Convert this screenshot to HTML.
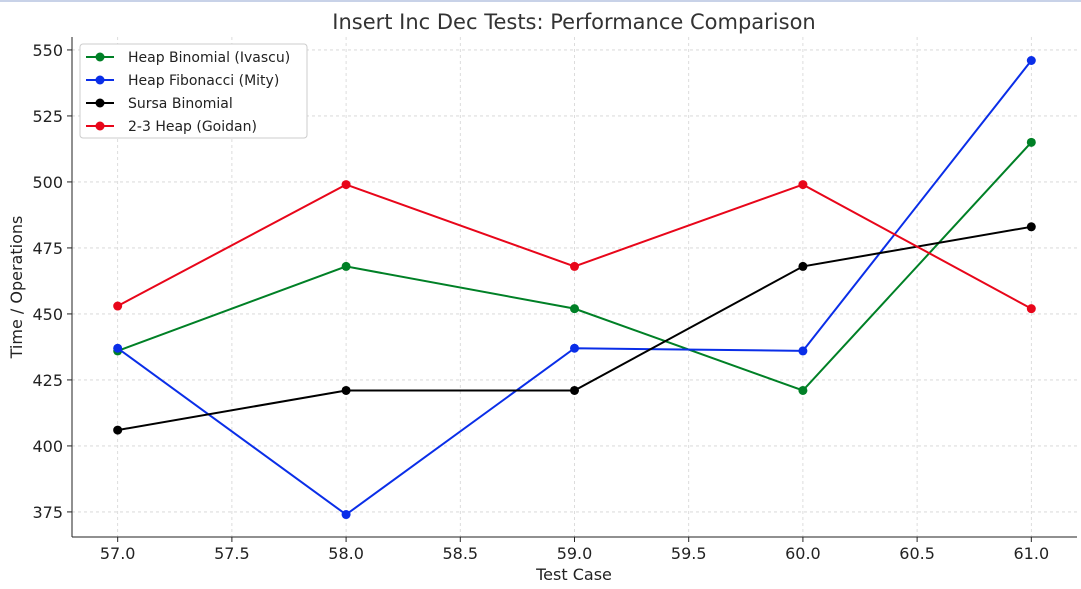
<!DOCTYPE html>
<html><head><meta charset="utf-8"><style>
body{margin:0;background:#fff;font-family:"DejaVu Sans","Liberation Sans",sans-serif}
</style></head><body>
<svg id="chart" width="1081" height="589" style="display:block;font-family:'DejaVu Sans','Liberation Sans',sans-serif">
<rect x="0" y="0" width="1081" height="2" fill="#c8d2e8"/>
<text x="574" y="29" text-anchor="middle" font-size="21" fill="#333">Insert Inc Dec Tests: Performance Comparison</text>
<g id="grid"></g><g id="axes"></g><g id="series"></g><g id="legend"></g>
<text x="574" y="580" text-anchor="middle" font-size="16" fill="#222">Test Case</text>
<text transform="translate(22,287) rotate(-90)" text-anchor="middle" font-size="16" fill="#222">Time / Operations</text>
</svg>
<script>
const categories=[57,58,59,60,61];
const seriesNames=["Heap Binomial (Ivascu)","Heap Fibonacci (Mity)","Sursa Binomial","2-3 Heap (Goidan)"];
const seriesColors=["#008026","#0a2ee8","#000000","#e8061a"];
const binomialIvascu=[436,468,452,421,515];
const fibonacciMity=[437,374,437,436,546];
const sursaBinomial=[406,421,421,468,483];
const heapGoidan=[453,499,468,499,452];
const xTicks=[57,57.5,58,58.5,59,59.5,60,60.5,61];
const yTicks=[375,400,425,450,475,500,525,550];
const allSeries=[binomialIvascu,fibonacciMity,sursaBinomial,heapGoidan];
const L=72,R=1077,T=37,B=537,xMin=56.8,xMax=61.2,yMin=365.5,yMax=554.9;
const xs=v=>L+(v-xMin)/(xMax-xMin)*(R-L);
const ys=v=>B-(v-yMin)/(yMax-yMin)*(B-T);
const NS="http://www.w3.org/2000/svg";
function mk(p,t,a){const e=document.createElementNS(NS,t);for(const k in a)e.setAttribute(k,a[k]);p.appendChild(e);return e;}
const grid=document.getElementById('grid'),axes=document.getElementById('axes');
xTicks.forEach(v=>{const x=xs(v);
const g=mk(grid,'line',{x1:x,x2:x,y1:T,y2:B,stroke:'#d4d4d4','stroke-width':0.8,'stroke-dasharray':'3,3'});


mk(axes,'line',{x1:x,x2:x,y1:B,y2:B+5,stroke:'#222'});
const t=mk(axes,'text',{x:x,y:B+22,'text-anchor':'middle','font-size':16,fill:'#222'});t.textContent=v.toFixed(1);

});
yTicks.forEach(v=>{const y=ys(v);
const g=mk(grid,'line',{x1:L,x2:R,y1:y,y2:y,stroke:'#d4d4d4','stroke-width':0.8,'stroke-dasharray':'3,3'});


mk(axes,'line',{x1:L-5,x2:L,y1:y,y2:y,stroke:'#222'});
const t=mk(axes,'text',{x:L-9,y:y+6,'text-anchor':'end','font-size':16,fill:'#222'});t.textContent=v;

});
mk(axes,'line',{x1:L,x2:L,y1:T,y2:B,stroke:'#222'});
mk(axes,'line',{x1:L,x2:R,y1:B,y2:B,stroke:'#222'});
const sg=document.getElementById('series');
allSeries.forEach((d,i)=>{const g=mk(sg,'g',{});


mk(g,'polyline',{points:d.map((v,j)=>xs(categories[j])+','+ys(v)).join(' '),fill:'none',stroke:seriesColors[i],'stroke-width':2});
d.forEach((v,j)=>{const c=mk(g,'circle',{cx:xs(categories[j]),cy:ys(v),r:4.5,fill:seriesColors[i]});

});});
const lg=document.getElementById('legend');
const box=mk(lg,'rect',{x:80,y:44,width:227,height:94,rx:3,fill:'#fff',stroke:'#ccc'});


seriesNames.forEach((n,i)=>{const y=57+i*23;
mk(lg,'line',{x1:86,x2:114,y1:y,y2:y,stroke:seriesColors[i],'stroke-width':2});
mk(lg,'circle',{cx:100,cy:y,r:4.5,fill:seriesColors[i]});
const t=mk(lg,'text',{x:128,y:y+5,'font-size':14,fill:'#222'});t.textContent=n;

});
</script>
</body></html>
